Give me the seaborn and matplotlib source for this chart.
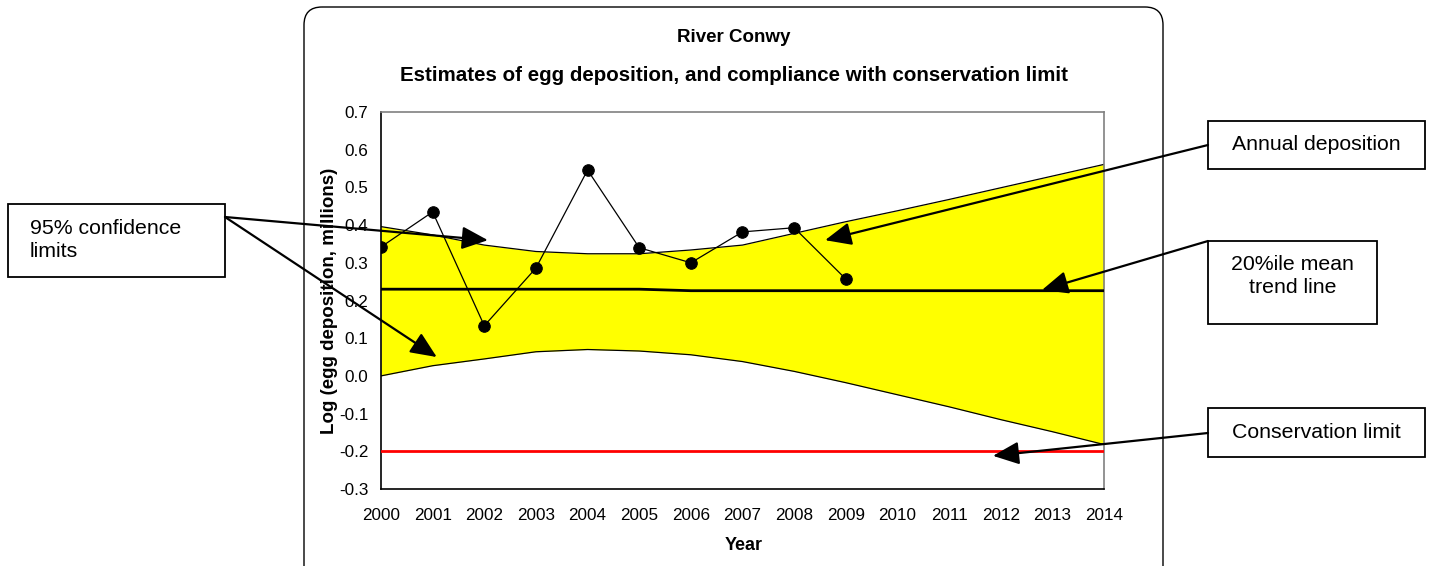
import matplotlib
matplotlib.use("Agg")
import matplotlib.pyplot as plt
import seaborn as sns
import pandas as pd
from matplotlib.patches import Rectangle, FancyBboxPatch

# chart values
years = [2000, 2001, 2002, 2003, 2004, 2005, 2006, 2007, 2008, 2009, 2010, 2011, 2012, 2013, 2014]
deposition_years = [2000, 2001, 2002, 2003, 2004, 2005, 2006, 2007, 2008, 2009]
deposition = [0.342, 0.435, 0.133, 0.286, 0.546, 0.340, 0.300, 0.382, 0.393, 0.257]
upper_ci = [0.396, 0.374, 0.347, 0.330, 0.324, 0.324, 0.334, 0.347, 0.378, 0.409, 0.438, 0.468, 0.499, 0.530, 0.561]
lower_ci = [0.000, 0.027, 0.045, 0.064, 0.070, 0.066, 0.056, 0.038, 0.012, -0.018, -0.050, -0.082, -0.116, -0.148, -0.182]
trend = [0.230, 0.230, 0.230, 0.230, 0.230, 0.230, 0.226, 0.226, 0.226, 0.226, 0.226, 0.226, 0.226, 0.226, 0.226]
conservation_limit = -0.2
y_ticks = [-0.3, -0.2, -0.1, 0.0, 0.1, 0.2, 0.3, 0.4, 0.5, 0.6, 0.7]

band = pd.DataFrame({"year": years, "upper": upper_ci, "lower": lower_ci, "trend": trend})
annual = pd.DataFrame({"year": deposition_years, "deposition": deposition})

sns.set_style("white")
plt.rcParams["font.family"] = ["Liberation Sans", "DejaVu Sans"]
plt.rcParams["text.color"] = "black"
plt.rcParams["axes.labelcolor"] = "black"

W, H = 1432, 566
fig = plt.figure(figsize=(W / 100, H / 100), dpi=100)
ax = fig.add_axes([381 / W, 1 - 489 / H, (1104 - 381) / W, (489 - 112) / H])

ax.fill_between(band["year"], band["lower"], band["upper"], color="#ffff00", lw=0, zorder=1)
sns.lineplot(data=band, x="year", y="upper", color="black", lw=0.9, ax=ax, zorder=2)
sns.lineplot(data=band, x="year", y="lower", color="black", lw=0.9, ax=ax, zorder=2)
sns.lineplot(data=band, x="year", y="trend", color="black", lw=2.0, ax=ax, zorder=3)
ax.axhline(conservation_limit, color="#ff0000", lw=2.0, zorder=3)
sns.lineplot(data=annual, x="year", y="deposition", color="black", lw=0.9,
             marker="o", markersize=8.3, markeredgecolor="black", ax=ax, zorder=4)

ax.set_xlim(years[0], years[-1])
ax.set_ylim(y_ticks[0], y_ticks[-1])
ax.set_xticks(years)
ax.set_yticks(y_ticks)
ax.set_yticklabels([f"{v:.1f}" for v in y_ticks])
ax.tick_params(axis="both", direction="out", length=5, width=1, colors="black",
               labelcolor="black", labelsize=12.3, pad=4)
ax.tick_params(axis="x", pad=9)
for side in ["left", "bottom"]:
    ax.spines[side].set_color("black")
    ax.spines[side].set_linewidth(1.2)
for side in ["top", "right"]:
    ax.spines[side].set_color("#808080")
    ax.spines[side].set_linewidth(1.2)

ax.set_xlabel("Year", fontsize=13, fontweight="bold")
ax.set_ylabel("Log (egg deposition, millions)", fontsize=13.5, fontweight="bold")
ax.xaxis.set_label_coords(0.502, -0.128)
ax.yaxis.set_label_coords(-0.060, 0.5)

fig.text(734 / W, 1 - 38 / H, "River Conwy", ha="center", va="center",
         fontsize=13.5, fontweight="bold")
fig.text(734 / W, 1 - 75 / H, "Estimates of egg deposition, and compliance with conservation limit",
         ha="center", va="center", fontsize=14.8, fontweight="bold")

# overlay in pixel coords for the frame, callout boxes and arrows
ov = fig.add_axes([0, 0, 1, 1])
ov.set_xlim(0, W)
ov.set_ylim(H, 0)
ov.axis("off")

ov.add_patch(FancyBboxPatch((304, 7), 859, 580, boxstyle="round,pad=0,rounding_size=18",
                            facecolor="none", edgecolor="black", lw=1.0))

boxes = [
    (8, 204, 217, 73, "95% confidence\nlimits", 30, 240),
    (1208, 121, 217, 48, "Annual deposition", None, 145),
    (1208, 241, 169, 83, "20%ile mean\ntrend line", None, 276),
    (1208, 408, 217, 49, "Conservation limit", None, 433),
]
for x0, y0, w, h, label, tx, ty in boxes:
    ov.add_patch(Rectangle((x0, y0), w, h, facecolor="white", edgecolor="black", lw=1.3, zorder=5))
    if tx is not None:
        ov.text(tx, ty, label, ha="left", va="center", fontsize=15.3,
                linespacing=1.22, zorder=6)
    else:
        ov.text(x0 + w / 2, ty, label, ha="center", va="center", fontsize=15.3,
                linespacing=1.22, zorder=6)

# (tip in data coords, start in pixels)
arrows = [
    ((2002.07, 0.360), (225, 217)),
    ((2001.08, 0.050), (225, 217)),
    ((2008.60, 0.360), (1208, 145)),
    ((2012.80, 0.228), (1208, 241)),
    ((2011.85, -0.212), (1208, 433)),
]
for tip, start in arrows:
    ov.annotate("", xy=tip, xycoords=ax.transData, xytext=start, textcoords=ov.transData,
                arrowprops=dict(arrowstyle="-|>,head_length=0.8,head_width=0.35",
                                mutation_scale=20, lw=1.6, color="black",
                                shrinkA=0, shrinkB=0), zorder=7)

fig.savefig("out.png", dpi=100)
